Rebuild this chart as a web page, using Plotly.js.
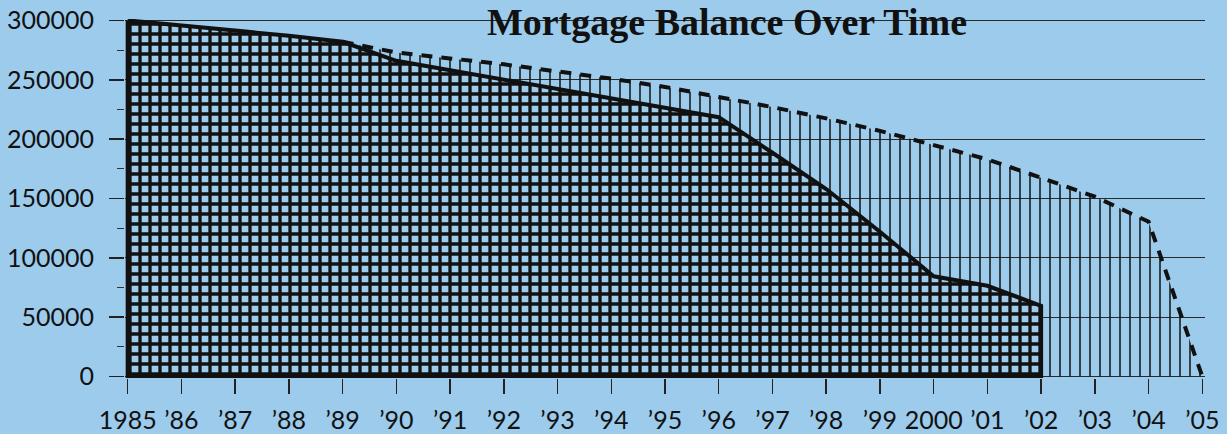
<!DOCTYPE html>
<html>
<head>
<meta charset="utf-8">
<script src="https://cdn.plot.ly/plotly-3.0.1.min.js"></script>
<style>
  html, body { margin: 0; padding: 0; background: #9ccbec; }
  #chart { width: 1227px; height: 434px; }
</style>
</head>
<body>
<div id="chart"></div>
<script>
// Actual mortgage balance (solid line, cross-hatched area)
const actualYears = [1985, 1986, 1987, 1988, 1989, 1990, 1991, 1992, 1993, 1994, 1995, 1996, 1997, 1998, 1999, 2000, 2001, 2002];
const actualBalance = [300000, 296000, 291500, 287000, 282000, 266000, 258000, 250000, 242500, 234500, 226500, 218500, 188500, 158000, 122000, 84500, 76500, 59500];

// Scheduled balance (dashed line, vertical-line area)
const scheduleYears = [1989, 1990, 1991, 1992, 1993, 1994, 1995, 1996, 1997, 1998, 1999, 2000, 2001, 2002, 2003, 2004, 2005];
const scheduleBalance = [282000, 273000, 268000, 263000, 257000, 251000, 244000, 235500, 227000, 217500, 207000, 195000, 183000, 167500, 151500, 130500, 0];

// Axis ticks
const xTickVals = [1985, 1986, 1987, 1988, 1989, 1990, 1991, 1992, 1993, 1994, 1995, 1996, 1997, 1998, 1999, 2000, 2001, 2002, 2003, 2004, 2005];
const xTickText = ["1985", "\u201986", "\u201987", "\u201988", "\u201989", "\u201990", "\u201991", "\u201992", "\u201993", "\u201994", "\u201995", "\u201996", "\u201997", "\u201998", "\u201999", "2000", "\u201901", "\u201902", "\u201903", "\u201904", "\u201905"];

const BG = "#9ccbec";

// Closed outline for the actual-balance area (down to zero at both ends)
const actX = actualYears.concat([actualYears[actualYears.length - 1], actualYears[0], actualYears[0]]);
const actY = actualBalance.concat([0, 0, actualBalance[0]]);

const traces = [
  {
    x: scheduleYears,
    y: scheduleBalance,
    type: "scatter",
    mode: "lines",
    fill: "tozeroy",
    fillcolor: "rgba(0,0,0,0)",
    fillpattern: { shape: "|", size: 10, solidity: 0.15, fgcolor: "#111", bgcolor: "rgba(0,0,0,0)", fgopacity: 1 },
    line: { color: "#111", width: 4, dash: "11px,9px" },
    hoverinfo: "skip",
    showlegend: false
  },
  {
    x: actX,
    y: actY,
    type: "scatter",
    mode: "lines",
    fill: "toself",
    fillcolor: BG,
    fillpattern: { shape: "+", size: 10, solidity: 0.55, fgcolor: "#111", bgcolor: BG, fgopacity: 1 },
    line: { color: "#111", width: 4 },
    hoverinfo: "skip",
    showlegend: false
  }
];

const tickFont = { family: "Lato, 'Noto Sans', sans-serif", size: 25, color: "#111" };

const layout = {
  width: 1227,
  height: 434,
  paper_bgcolor: BG,
  plot_bgcolor: BG,
  margin: { l: 125, r: 22, t: 19, b: 56 },
  title: {
    text: "Mortgage Balance Over Time",
    font: { family: "'Liberation Serif', serif", size: 38, color: "#111", weight: "bold" },
    x: 0.5925,
    xanchor: "center",
    y: 0.92,
    yanchor: "bottom"
  },
  xaxis: {
    range: [1984.95, 2005.05],
    tickvals: xTickVals,
    ticktext: xTickText,
    ticks: "outside",
    ticklen: 15,
    tickwidth: 1.5,
    tickcolor: "#222",
    ticklabelstandoff: 5,
    showgrid: false,
    zeroline: false,
    showline: false,
    tickfont: tickFont,
    tickangle: 0,
    fixedrange: true
  },
  yaxis: {
    range: [-1200, 301200],
    dtick: 50000,
    tick0: 0,
    tickformat: "d",
    ticks: "outside",
    ticklen: 15,
    tickwidth: 1.5,
    tickcolor: "#222",
    ticklabelstandoff: 10,
    showgrid: true,
    gridcolor: "#2a2a2a",
    gridwidth: 1,
    zeroline: false,
    showline: false,
    tickfont: tickFont,
    minor: { ticks: "outside", ticklen: 7, dtick: 25000, tickwidth: 1, tickcolor: "#333", showgrid: false },
    fixedrange: true
  },
  showlegend: false
};

Plotly.newPlot("chart", traces, layout, { displayModeBar: false, staticPlot: true });
</script>
</body>
</html>
